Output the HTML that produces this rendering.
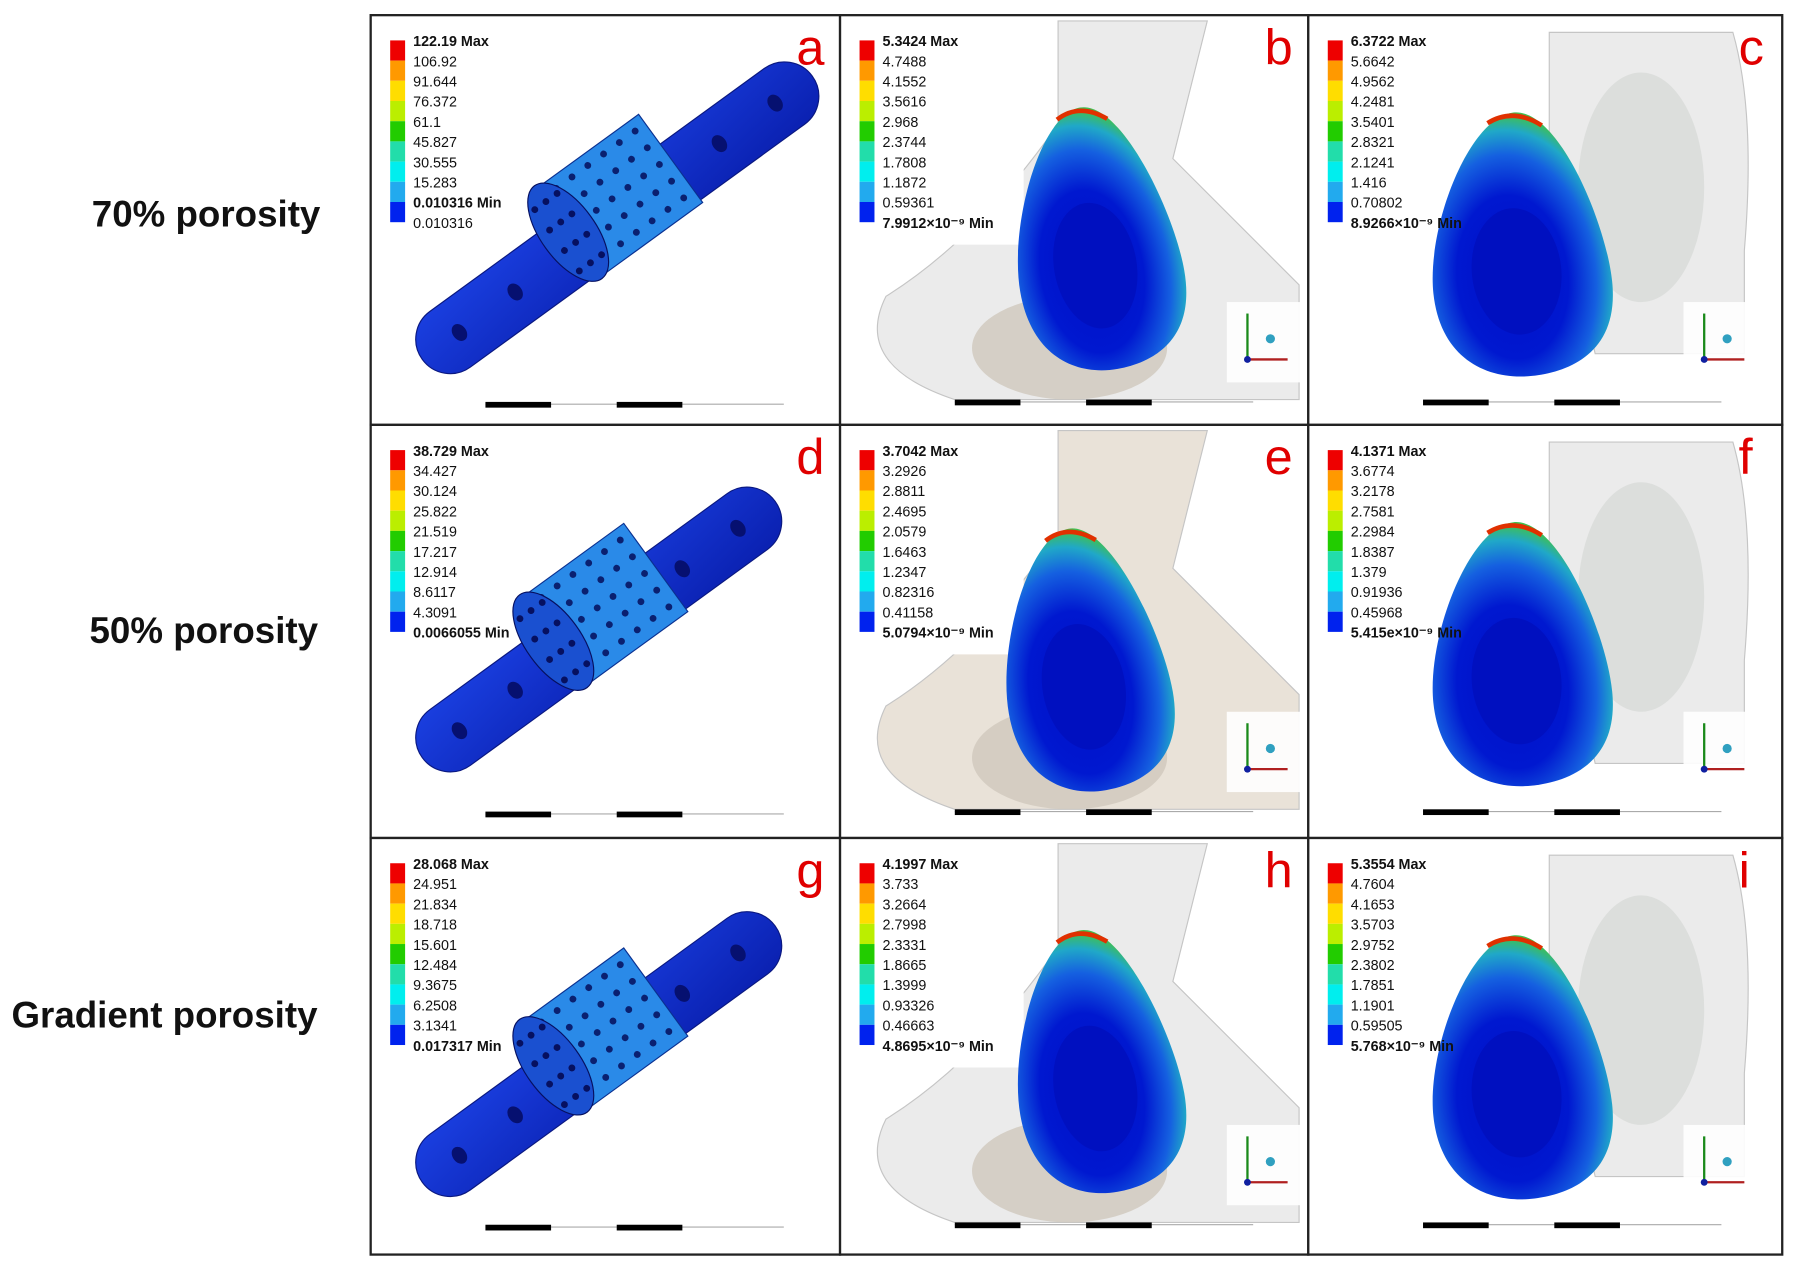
<!DOCTYPE html>
<html><head><meta charset="utf-8">
<style>
html,body{margin:0;padding:0;background:#fff;}
svg{display:block;}
text{font-family:"Liberation Sans",sans-serif;}
</style></head>
<body>
<svg id="fig" width="1796" height="1264" viewBox="0 0 1565 1101" xmlns="http://www.w3.org/2000/svg">
<defs>
<radialGradient id="eggB" cx="0.45" cy="0.62" r="0.62">
<stop offset="0" stop-color="#0010c8"/><stop offset="0.5" stop-color="#0018d0"/><stop offset="0.75" stop-color="#1560e0"/><stop offset="0.9" stop-color="#20a8c8"/><stop offset="1" stop-color="#40c050"/>
</radialGradient>
<linearGradient id="plateG" x1="0" y1="0" x2="1" y2="1">
<stop offset="0" stop-color="#1a3fe0"/><stop offset="1" stop-color="#0a20b0"/>
</linearGradient>
</defs>
<g id="root"></g>
</svg>
<script>
const rowLabels = ["70% porosity", "50% porosity", "Gradient porosity"];
const panelLetters = ["a","b","c","d","e","f","g","h","i"];
const legendA = ["122.19 Max","106.92","91.644","76.372","61.1","45.827","30.555","15.283","0.010316 Min","0.010316"];
const legendB = ["5.3424 Max","4.7488","4.1552","3.5616","2.968","2.3744","1.7808","1.1872","0.59361","7.9912×10⁻⁹ Min"];
const legendC = ["6.3722 Max","5.6642","4.9562","4.2481","3.5401","2.8321","2.1241","1.416","0.70802","8.9266×10⁻⁹ Min"];
const legendD = ["38.729 Max","34.427","30.124","25.822","21.519","17.217","12.914","8.6117","4.3091","0.0066055 Min"];
const legendE = ["3.7042 Max","3.2926","2.8811","2.4695","2.0579","1.6463","1.2347","0.82316","0.41158","5.0794×10⁻⁹ Min"];
const legendF = ["4.1371 Max","3.6774","3.2178","2.7581","2.2984","1.8387","1.379","0.91936","0.45968","5.415e×10⁻⁹ Min"];
const legendG = ["28.068 Max","24.951","21.834","18.718","15.601","12.484","9.3675","6.2508","3.1341","0.017317 Min"];
const legendH = ["4.1997 Max","3.733","3.2664","2.7998","2.3331","1.8665","1.3999","0.93326","0.46663","4.8695×10⁻⁹ Min"];
const legendI = ["5.3554 Max","4.7604","4.1653","3.5703","2.9752","2.3802","1.7851","1.1901","0.59505","5.768×10⁻⁹ Min"];
const legends = [legendA,legendB,legendC,legendD,legendE,legendF,legendG,legendH,legendI];
const bandColors = ["#ee0000","#ff9900","#ffdd00","#bbee00","#22cc00","#22ddaa","#00eeee","#22aaee","#0022ee"];

const NS="http://www.w3.org/2000/svg";
const root=document.getElementById('root');
function mk(tag,attrs,parent){const e=document.createElementNS(NS,tag);for(const k in attrs)e.setAttribute(k,attrs[k]);(parent||root).appendChild(e);return e;}

const colX=[323,732,1140,1553];
const rowY=[13,370,730,1093];

const labelPos=[[80,197],[78,560],[10,895]];
rowLabels.forEach((t,i)=>{
  const el=mk('text',{x:labelPos[i][0],y:labelPos[i][1],'font-size':32,'font-weight':'bold',fill:'#111'});
  
  
  el.textContent=t;
});

function plate(g,ox,oy,len){
  const p=mk('g',{transform:`translate(${ox},${oy}) rotate(-36)`},g);
  mk('rect',{x:0,y:-30,width:len,height:60,rx:30,fill:'url(#plateG)',stroke:'#0a1880','stroke-width':1},p);
  [40,100,len-100,len-40].forEach(h=>mk('ellipse',{cx:h,cy:0,rx:6,ry:8,fill:'#061070'},p));
  const c=mk('g',{transform:`translate(${len*0.4},0)`},p);
  mk('rect',{x:0,y:-62,width:110,height:95,fill:'#2a8ae8',stroke:'#0a3090'},c);
  for(let r=0;r<5;r++)for(let k=0;k<6;k++)mk('circle',{cx:14+k*17,cy:-52+r*18,r:3,fill:'#0a2070'},c);
  mk('ellipse',{cx:0,cy:-15,rx:24,ry:50,fill:'#1a50d0',stroke:'#061060'},c);
  for(let r=0;r<4;r++)for(let k=0;k<3;k++)mk('circle',{cx:-12+k*12,cy:-48+r*22,r:3,fill:'#061060'},c);
}
function egg(g,cx,cy,rx,ry,tilt){
  const e=mk('g',{transform:`translate(${cx},${cy}) rotate(${tilt})`},g);
  mk('path',{d:`M${rx*0.1},${-ry} C${rx*0.6},${-ry} ${rx},${-ry*0.1} ${rx},${ry*0.35} C${rx},${ry*0.9} ${rx*0.4},${ry} 0,${ry} C${-rx*0.5},${ry} ${-rx},${ry*0.8} ${-rx},${ry*0.3} C${-rx},${-ry*0.2} ${-rx*0.4},${-ry} ${rx*0.1},${-ry} Z`,fill:'url(#eggB)'},e);
  mk('path',{d:`M${-rx*0.2},${-ry*0.94} Q${rx*0.1},${-ry*1.04} ${rx*0.4},${-ry*0.88}`,stroke:'#e03000','stroke-width':4,fill:'none'},e);
  mk('ellipse',{cx:-rx*0.05,cy:ry*0.2,rx:rx*0.5,ry:ry*0.48,fill:'#0010c0'},e);
}
function triad(g,x,y){
  mk('rect',{x:x-18,y:y-50,width:65,height:70,fill:'#fff',opacity:0.9},g);
  mk('line',{x1:x,y1:y,x2:x,y2:y-40,stroke:'#1a8a1a','stroke-width':2},g);
  mk('line',{x1:x,y1:y,x2:x+35,y2:y,stroke:'#b02020','stroke-width':2},g);
  mk('circle',{cx:x,cy:y,r:3,fill:'#1020a0'},g);
  mk('circle',{cx:x+20,cy:y-18,r:4,fill:'#30a0c0'},g);
}
function scalebar(g,x,y,w){
  mk('line',{x1:x,y1:y+2,x2:x+w,y2:y+2,stroke:'#aaa','stroke-width':1},g);
  mk('rect',{x:x,y:y,width:w*0.22,height:5,fill:'#000'},g);
  mk('rect',{x:x+w*0.44,y:y,width:w*0.22,height:5,fill:'#000'},g);
}

for(let r=0;r<3;r++)for(let c=0;c<3;c++){
  const idx=r*3+c;
  const x0=colX[c],y0=rowY[r],w=colX[c+1]-x0,h=rowY[r+1]-y0;
  const g=mk('g',{});
  
  
  mk('rect',{x:x0,y:y0,width:w,height:h,fill:'#fff'},g);
  if(c===0){
    plate(g,x0+45,y0+300-(r===1?10:0),r===0?420:380);
  }else{
    const bx=x0+(c===1?40:190), by=y0+5;
    mk('path',{d:c===1?
      `M${bx+150},${by} L${bx+280},${by} L${bx+250},${by+120} Q${bx+330},${by+200} ${bx+360},${by+230} L${bx+360},${by+330} L${bx+60},${by+330} Q${bx-30},${by+300} ${bx},${by+240} Q${bx+80},${by+190} ${bx+150},${by+90} Z`:
      `M${bx+20},${by+10} L${bx+180},${by+10} Q${bx+200},${by+80} ${bx+190},${by+200} L${bx+190},${by+290} L${bx+60},${by+290} Q${bx+40},${by+200} ${bx+20},${by+100} Z`,
      fill:r===1&&c===1?'#e6ddd2':'#e8e8e8',stroke:'#bbb','stroke-width':1,opacity:0.85},g);
    if(c===1)mk('ellipse',{cx:x0+200,cy:y0+290,rx:85,ry:45,fill:'#cfc8bd',opacity:0.8},g);
    else mk('ellipse',{cx:x0+290,cy:y0+150,rx:55,ry:100,fill:'#d6d9d6',opacity:0.7},g);
    mk('rect',{x:x0+10,y:y0+10,width:c===1?150:112,height:190,fill:'#fff'},g);
    if(c===1) egg(g,x0+222+(r===1?-10:0),y0+195+(r===1?10:0),72,115,-10);
    else egg(g,x0+183,y0+200,78,115,-6);
    triad(g,x0+(c===1?355:345),y0+300);
  }
  scalebar(g,x0+100,y0+(c===0?337:335),260);
  const lg=mk('g',{},g);
  
  
  const lx=x0+17, ly=y0+22;
  const labs=legends[idx];
  bandColors.forEach((col,k)=>mk('rect',{x:lx,y:ly+k*17.6,width:13,height:17.6,fill:col},lg));
  labs.forEach((t,k)=>{
    const tx=mk('text',{x:lx+20,y:ly+5+k*17.6,'font-size':12.5,fill:'#111','font-weight':(k===0||t.includes('Min'))?'bold':'normal'},lg);
    tx.textContent=t;
  });
  const L=mk('text',{x:x0+w-38,y:y0+43,'font-size':44,fill:'#e00000'},g);
  
  
  L.textContent=panelLetters[idx];
  mk('rect',{x:x0,y:y0,width:w,height:h,fill:'none',stroke:'#222','stroke-width':2},g);
}
</script>
</body></html>
